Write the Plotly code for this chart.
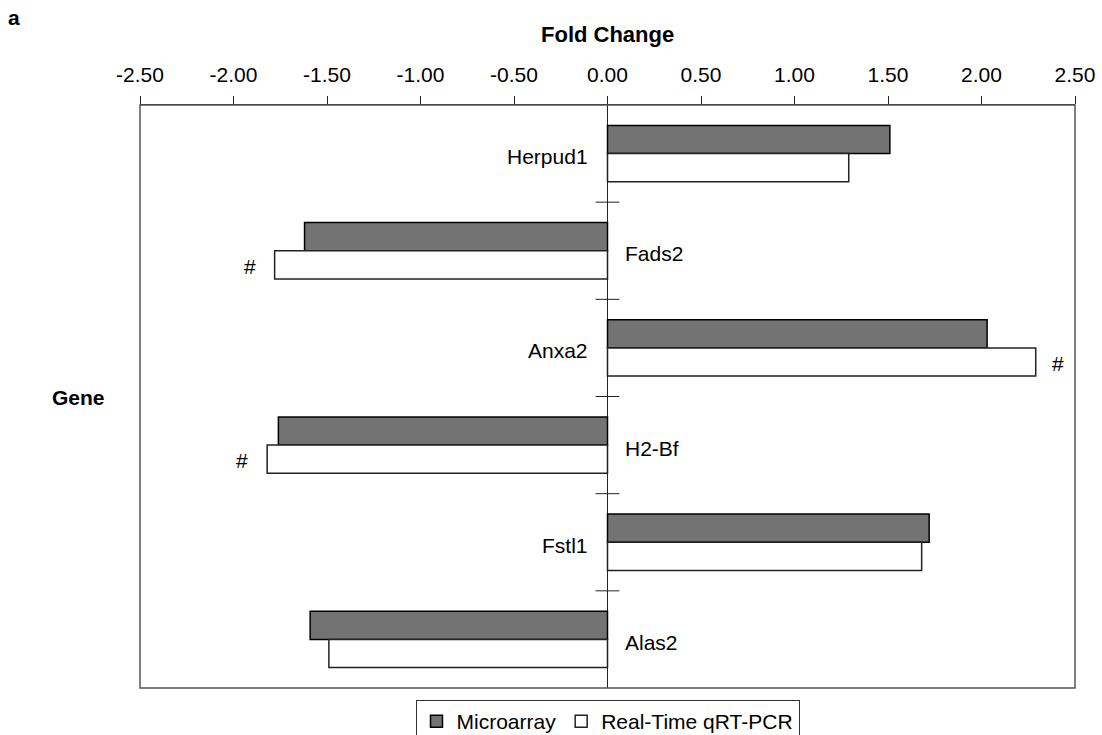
import plotly.graph_objects as go

genes = ["Herpud1", "Fads2", "Anxa2", "H2-Bf", "Fstl1", "Alas2"]
microarray = [1.51, -1.62, 2.03, -1.76, 1.72, -1.59]
qrtpcr = [1.29, -1.78, 2.29, -1.82, 1.68, -1.49]
qrt_significant = [False, True, True, True, False, False]
x_ticks = [-2.5, -2.0, -1.5, -1.0, -0.5, 0.0, 0.5, 1.0, 1.5, 2.0, 2.5]
x_tick_labels = ["-2.50", "-2.00", "-1.50", "-1.00", "-0.50", "0.00", "0.50", "1.00", "1.50", "2.00", "2.50"]

FONT = "Liberation Sans, Arial, sans-serif"
FS = 21
ypos = list(range(len(genes)))

fig = go.Figure()
fig.add_trace(go.Bar(
    y=ypos, x=microarray, orientation="h", name="Microarray",
    marker=dict(color="#737373", line=dict(color="#000000", width=1.5)),
))
fig.add_trace(go.Bar(
    y=ypos, x=qrtpcr, orientation="h", name="Real-Time qRT-PCR",
    marker=dict(color="#ffffff", line=dict(color="#222222", width=1.5)),
))

# tick marks on the vertical zero axis at category boundaries
bounds = [i + 0.5 for i in range(len(genes) - 1)]
fig.add_trace(go.Scatter(
    x=[0] * len(bounds), y=bounds, mode="markers",
    marker=dict(symbol="line-ew", size=17, line=dict(color="#222222", width=1)),
    showlegend=False, hoverinfo="skip",
))

annotations = []
for i, g in enumerate(genes):
    side_pos = microarray[i] >= 0
    annotations.append(dict(
        x=0, y=i, xref="x", yref="y", text=g, showarrow=False,
        xanchor="right" if side_pos else "left",
        xshift=-18 if side_pos else 15, yshift=-3,
        font=dict(family=FONT, size=FS, color="#000000"),
    ))
    if qrt_significant[i]:
        v = qrtpcr[i]
        annotations.append(dict(
            x=v, y=i + 0.16, xref="x", yref="y", text="#", showarrow=False,
            xanchor="left" if v >= 0 else "right",
            xshift=14 if v >= 0 else -17,
            font=dict(family=FONT, size=FS, color="#000000"),
        ))

annotations.append(dict(x=-126 / 935, y=1 + (105 - 18) / 583, xref="paper", yref="paper",
                        text="<b>a</b>", showarrow=False, xanchor="center", yanchor="middle",
                        font=dict(family=FONT, size=FS, color="#000000")))
annotations.append(dict(x=-62 / 935, y=(688 - 397) / 583, xref="paper", yref="paper",
                        text="<b>Gene</b>", showarrow=False, xanchor="center", yanchor="middle",
                        font=dict(family=FONT, size=FS, color="#000000")))
annotations.append(dict(x=0.5, y=1 + (105 - 35) / 583, xref="paper", yref="paper",
                        text="<b>Fold Change</b>", showarrow=False, xanchor="center", yanchor="middle",
                        font=dict(family=FONT, size=22, color="#000000")))

fig.update_layout(
    width=1102, height=735,
    margin=dict(l=140, r=27, t=105, b=47, autoexpand=False),
    paper_bgcolor="#ffffff", plot_bgcolor="#ffffff",
    barmode="group", bargap=0.42, bargroupgap=0,
    font=dict(family=FONT, size=FS, color="#000000"),
    showlegend=True,
    legend=dict(orientation="h", x=0.5, xanchor="center",
                yref="container", y=1 - 700 / 735, yanchor="top",
                bordercolor="#333333", borderwidth=1, bgcolor="#ffffff",
                font=dict(family=FONT, size=FS, color="#000000"),
                itemwidth=30, traceorder="normal", tracegroupgap=0),
    xaxis=dict(
        side="top", range=[-2.5, 2.5], tickvals=x_ticks, ticktext=x_tick_labels,
        automargin=False,
        showline=True, linecolor="#222222", linewidth=1,
        ticks="outside", ticklen=8, tickcolor="#222222", tickwidth=1,
        ticklabelstandoff=6,
        showgrid=False, zeroline=True, zerolinecolor="#222222", zerolinewidth=1,
        tickfont=dict(family=FONT, size=FS, color="#000000"),
    ),
    yaxis=dict(
        range=[len(genes) - 0.5, -0.5], showticklabels=False, ticks="",
        automargin=False,
        showgrid=False, zeroline=False, showline=False,
    ),
    annotations=annotations,
    shapes=[dict(type="rect", xref="paper", yref="paper", x0=0, x1=1, y0=0, y1=1,
                 line=dict(color="#555555", width=1.5), layer="above")],
)

fig.write_html("out.html")
